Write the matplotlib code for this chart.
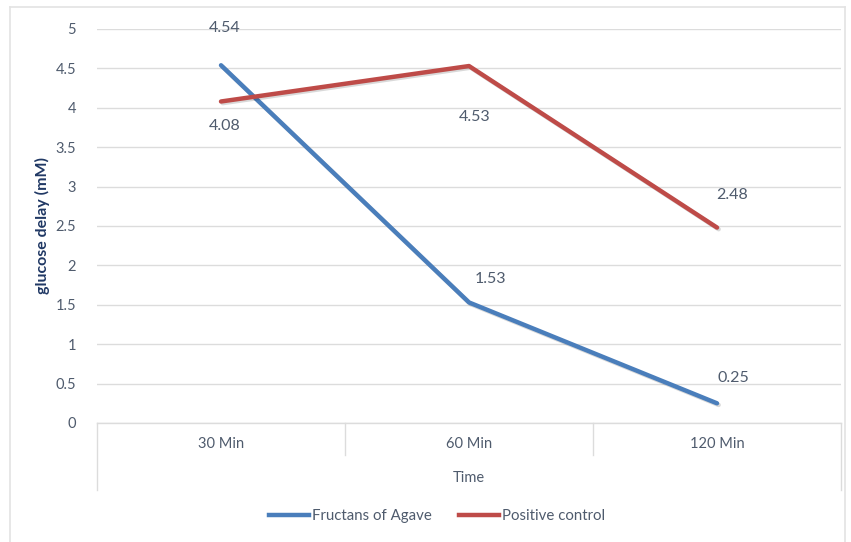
import matplotlib
matplotlib.use("Agg")
import matplotlib.pyplot as plt
import matplotlib.transforms as mtransforms
from matplotlib.lines import Line2D
import matplotlib.patheffects as pe

# Data
categories = ["30 Min", "60 Min", "120 Min"]
fructans = [4.54, 1.53, 0.25]
positive = [4.08, 4.53, 2.48]
yticks = [0, 0.5, 1, 1.5, 2, 2.5, 3, 3.5, 4, 4.5, 5]

# label offsets in pixels (dx, dy)
fructans_offsets = [(4, 37), (21, 23), (16, 25)]
positive_offsets = [(4, -25), (6, -51), (15, 33)]

BLUE = "#4A7EBB"
RED = "#BE4B48"
TXT = "#4F5B6D"
GRID = "#DCDCDC"

plt.rcParams["font.family"] = ["Lato", "DejaVu Sans"]

W, H = 851, 542
fig = plt.figure(figsize=(W / 100, H / 100), dpi=100)

# plot area in pixel coordinates
x0, x1 = 97, 841
ytop, ybot = 29, 423
ax = fig.add_axes([x0 / W, 1 - ybot / H, (x1 - x0) / W, (ybot - ytop) / H])

xs = list(range(len(categories)))
shadow = [pe.SimpleLineShadow(offset=(1.2, -1.2), alpha=0.15), pe.Normal()]
ax.plot(xs, fructans, color=BLUE, lw=3.2, solid_capstyle="round",
        solid_joinstyle="round", path_effects=shadow, zorder=3)
ax.plot(xs, positive, color=RED, lw=3.2, solid_capstyle="round",
        solid_joinstyle="round", path_effects=shadow, zorder=3)

for x, v, (dx, dy) in zip(xs, fructans, fructans_offsets):
    ax.annotate(f"{v:.2f}", (x, v), xytext=(dx, dy), textcoords="offset pixels",
                ha="center", va="center", fontsize=11.5, color=TXT)
for x, v, (dx, dy) in zip(xs, positive, positive_offsets):
    ax.annotate(f"{v:.2f}", (x, v), xytext=(dx, dy), textcoords="offset pixels",
                ha="center", va="center", fontsize=11.5, color=TXT)

ax.set_xlim(-0.5, len(categories) - 0.5)
ax.set_ylim(0, 5)
ax.set_yticks(yticks)
ax.set_yticklabels([f"{t:g}" for t in yticks])
ax.tick_params(axis="y", length=0, pad=15, labelsize=10.5, labelcolor=TXT)
ax.set_xticks([])
ax.grid(axis="y", color=GRID, lw=1)
ax.set_axisbelow(True)
for s in ax.spines.values():
    s.set_visible(False)

# category table under the plot
trans = mtransforms.blended_transform_factory(ax.transData, ax.transAxes)
hgt = ybot - ytop
outer_bottom = -(490 - ybot) / hgt
inner_bottom = -(455 - ybot) / hgt
ax.plot([-0.5, len(categories) - 0.5], [0, 0], transform=trans, color=GRID,
        lw=1, clip_on=False)
for xb in (-0.5, len(categories) - 0.5):
    ax.plot([xb, xb], [0, outer_bottom], transform=trans, color=GRID, lw=1,
            clip_on=False)
for xb in [i + 0.5 for i in range(len(categories) - 1)]:
    ax.plot([xb, xb], [0, inner_bottom], transform=trans, color=GRID, lw=1,
            clip_on=False)
for x, c in zip(xs, categories):
    ax.text(x, -(444 - ybot) / hgt, c, transform=trans, ha="center",
            va="center", fontsize=10.5, color=TXT)
ax.text(0.5, -(478 - ybot) / hgt, "Time", transform=ax.transAxes,
        ha="center", va="center", fontsize=10.5, color=TXT)

ax.set_ylabel("glucose delay (mM)", fontsize=11.5, fontweight="bold",
              color="#203864", va="center")
ax.yaxis.set_label_coords(42 / W, 0.5, transform=mtransforms.blended_transform_factory(
    fig.transFigure, ax.transAxes))

# legend
handles = [Line2D([], [], color=BLUE, lw=3.2), Line2D([], [], color=RED, lw=3.2)]
fig.legend(handles, ["Fructans of Agave", "Positive control"], loc="center",
           bbox_to_anchor=(437 / W, 1 - 516 / H), ncol=2, frameon=False,
           fontsize=10.8, labelcolor=TXT, handlelength=2.7,
           handletextpad=0.2, columnspacing=1.8)

# chart frame
frame_kw = dict(color="#E3E3E3", lw=1.2, transform=fig.transFigure)
fig.add_artist(Line2D([10 / W, 10 / W], [0, 1 - 7 / H], **frame_kw))
fig.add_artist(Line2D([10 / W, 845 / W], [1 - 7 / H, 1 - 7 / H], **frame_kw))
fig.add_artist(Line2D([845 / W, 845 / W], [0, 1 - 7 / H], **frame_kw))

fig.savefig("out.png", dpi=100)
